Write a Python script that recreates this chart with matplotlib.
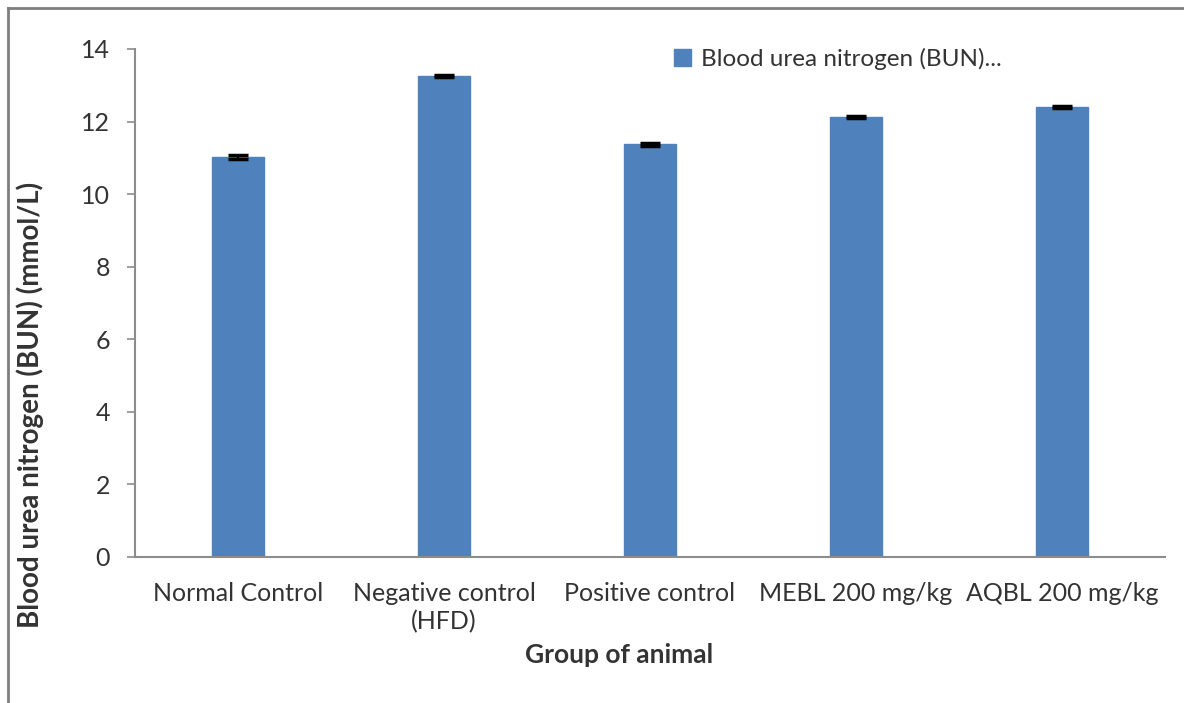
import numpy as np
import matplotlib.pyplot as plt
from matplotlib.lines import Line2D

groups = ['Normal Control', 'Negative control\n(HFD)', 'Positive control',
          'MEBL 200 mg/kg', 'AQBL 200 mg/kg']
bun = [11.03, 13.25, 11.38, 12.12, 12.40]
bun_err = [0.06, 0.03, 0.04, 0.03, 0.03]
yticks = [0, 2, 4, 6, 8, 10, 12, 14]

plt.rcParams['font.family'] = ['Lato', 'DejaVu Sans']
text_col = '#333333'
bar_col = '#4f81bd'
spine_col = '#8c8c8c'

fig = plt.figure(figsize=(11.84, 7.03), dpi=100)
ax = fig.add_axes([0.114, 0.2077, 0.870, 0.7226])

x = np.arange(len(groups))
ax.bar(x, bun, width=0.25, color=bar_col, edgecolor=bar_col,
       label='Blood urea nitrogen (BUN)...')
ax.errorbar(x, bun, yerr=bun_err, fmt='none', ecolor='black',
            elinewidth=1.5, capsize=7, capthick=2.5)

ax.set_xlim(-0.5, len(groups) - 0.5)
ax.set_ylim(0, 14)
ax.set_yticks(yticks)
ax.set_xticks(x)
ax.set_xticklabels(groups, fontsize=18, color=text_col, linespacing=1.25)
ax.tick_params(axis='x', length=0, pad=18)
ax.tick_params(axis='y', length=6, width=1.2, color=spine_col,
               labelsize=18, labelcolor=text_col, pad=12)

for side in ['top', 'right']:
    ax.spines[side].set_visible(False)
for side in ['left', 'bottom']:
    ax.spines[side].set_color(spine_col)
    ax.spines[side].set_linewidth(1.5)

ax.set_xlabel('Group of animal', fontsize=19, fontweight='bold',
              color=text_col)
ax.xaxis.set_label_coords(0.47, -0.17)
ax.set_ylabel('Blood urea nitrogen (BUN) (mmol/L)', fontsize=20,
              fontweight='bold', color=text_col)
ax.yaxis.set_label_coords(-0.088, 0.3)

leg = ax.legend(loc='upper left', bbox_to_anchor=(652 / 1184, 1 - 26 / 703),
                bbox_transform=fig.transFigure, frameon=False, fontsize=17.5,
                handlelength=0.7, handleheight=0.7, handletextpad=0.4)
for t in leg.get_texts():
    t.set_color(text_col)

# frame lines along the top and left edges of the figure
fig.add_artist(Line2D([8 / 1184, 1], [1 - 8 / 703, 1 - 8 / 703],
                      transform=fig.transFigure, color='#7f7f7f', lw=2))
fig.add_artist(Line2D([8 / 1184, 8 / 1184], [0, 1 - 8 / 703],
                      transform=fig.transFigure, color='#7f7f7f', lw=2))

fig.savefig('out.png', dpi=100)
